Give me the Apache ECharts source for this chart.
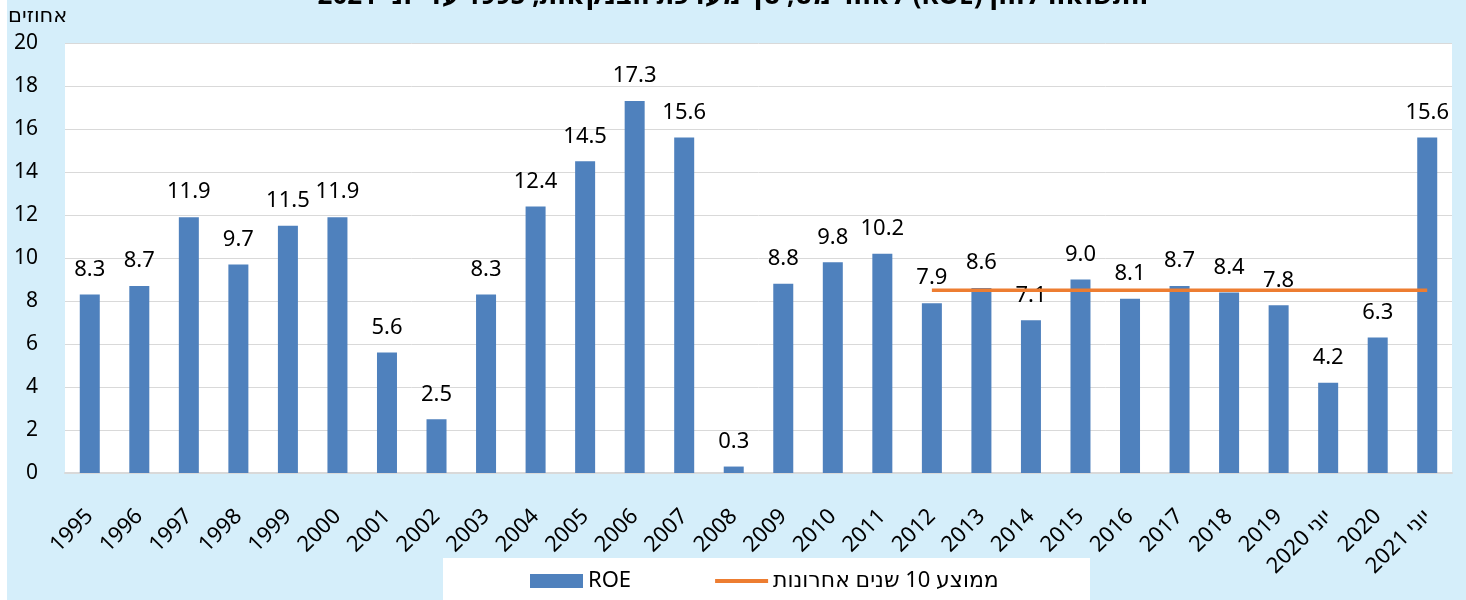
<!DOCTYPE html>
<html>
<head>
<meta charset="utf-8">
<script src="https://cdn.jsdelivr.net/npm/echarts@6/dist/echarts.min.js"></script>
<style>
  html, body { margin: 0; padding: 0; background: #fff; }
  #chart { width: 1466px; height: 600px; }
</style>
</head>
<body>
<div id="chart"></div>
<script>
// קטגוריות וערכים
const years = ['1995', '1996', '1997', '1998', '1999', '2000', '2001', '2002', '2003', '2004',
  '2005', '2006', '2007', '2008', '2009', '2010', '2011', '2012', '2013', '2014',
  '2015', '2016', '2017', '2018', '2019', 'יוני 2020', '2020', 'יוני 2021']
const roe = [8.3, 8.7, 11.9, 9.7, 11.5, 11.9, 5.6, 2.5, 8.3, 12.4,
  14.5, 17.3, 15.6, 0.3, 8.8, 9.8, 10.2, 7.9, 8.6, 7.1,
  9.0, 8.1, 8.7, 8.4, 7.8, 4.2, 6.3, 15.6]
// ממוצע 10 שנים אחרונות (מ-2012)
const avgLine = [null, null, null, null, null, null, null, null, null, null,
  null, null, null, null, null, null, null, 8.5, 8.5, 8.5,
  8.5, 8.5, 8.5, 8.5, 8.5, 8.5, 8.5, 8.5]
const yTicks = { min: 0, max: 20, interval: 2 }

const myChart = echarts.init(document.getElementById('chart'))
const font = '"Noto Sans", "DejaVu Sans", sans-serif'

const option = {
  backgroundColor: '#d5eefa',
  textStyle: { fontFamily: font },
  title: {
    text: '\u202Bהתשואה להון (ROE) לאחר מס, סך מערכת הבנקאות, 1995 עד יוני 2021\u202C',
    left: 'center',
    top: -21,
    textStyle: { fontSize: 26, fontWeight: 'bold', color: '#000', fontFamily: font }
  },
  graphic: [
    { type: 'rect', left: 0, top: 0, shape: { width: 7, height: 600 }, style: { fill: '#fff' }, silent: true },
    { type: 'rect', left: 443, top: 558, shape: { width: 647, height: 50 }, style: { fill: '#fff' }, silent: true, z: -1 },
    { type: 'text', left: 8, top: 6, style: { text: 'אחוזים', fontSize: 21, fill: '#000', fontFamily: font } }
  ],
  grid: {
    left: 65,
    right: 14,
    top: 43,
    bottom: 127,
    show: true,
    backgroundColor: '#fff',
    borderWidth: 0
  },
  legend: {
    left: 525,
    top: 565,
    itemWidth: 53,
    itemHeight: 14,
    itemGap: 84,
    textStyle: { fontSize: 22, color: '#000', fontFamily: font },
    data: [
      { name: 'ROE', icon: 'rect' },
      { name: 'ממוצע 10 שנים אחרונות', icon: 'path://M0,0 L53,0 L53,4 L0,4 Z' }
    ]
  },
  xAxis: {
    type: 'category',
    data: years,
    axisLine: { lineStyle: { color: '#d9d9d9', width: 2 } },
    axisTick: { show: false },
    axisLabel: {
      rotate: 45,
      interval: 0,
      margin: 40,
      fontSize: 22,
      color: '#000'
    }
  },
  yAxis: {
    type: 'value',
    min: yTicks.min,
    max: yTicks.max,
    interval: yTicks.interval,
    axisLine: { show: false },
    axisTick: { show: false },
    splitLine: { lineStyle: { color: '#d9d9d9', width: 1 } },
    axisLabel: { fontSize: 21, color: '#000', margin: 27 }
  },
  series: [
    {
      name: 'ROE',
      type: 'bar',
      data: roe,
      barWidth: 20,
      itemStyle: { color: '#4f81bd' },
      label: {
        show: true,
        position: 'top',
        distance: 14,
        fontSize: 22,
        color: '#000',
        formatter: p => p.value.toFixed(1)
      }
    },
    {
      name: 'ממוצע 10 שנים אחרונות',
      type: 'line',
      data: avgLine,
      symbol: 'none',
      lineStyle: { color: '#ed7d31', width: 3.5 },
      itemStyle: { color: '#ed7d31' }
    }
  ]
}

myChart.setOption(option)
</script>
</body>
</html>
